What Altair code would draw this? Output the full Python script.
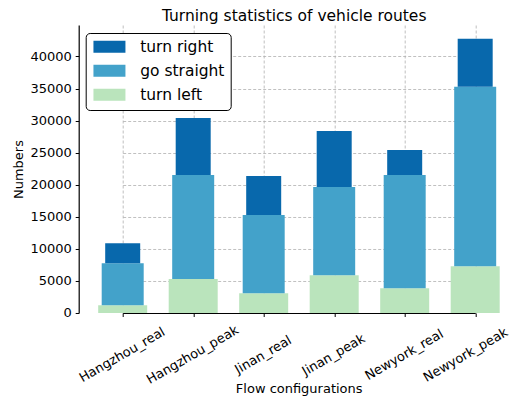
import altair as alt
import pandas as pd

categories = ["Hangzhou_real", "Hangzhou_peak", "Jinan_real", "Jinan_peak", "Newyork_real", "Newyork_peak"]
turn_left = [1200, 5310, 3080, 5890, 3860, 7300]
go_straight = [6570, 16200, 12190, 13750, 17660, 27970]
turn_right = [3120, 8910, 6090, 8750, 3900, 7500]
series_names = ["turn right", "go straight", "turn left"]
series_colors = ["#0868ac", "#43a2ca", "#bae4bc"]
y_ticks = [0, 5000, 10000, 15000, 20000, 25000, 30000, 35000, 40000]

rows = []
for i, c in enumerate(categories):
    l, s, r = turn_left[i], go_straight[i], turn_right[i]
    rows.append(dict(config=c, turn="turn left", lo=0, hi=l))
    rows.append(dict(config=c, turn="go straight", lo=l, hi=l + s))
    rows.append(dict(config=c, turn="turn right", lo=l + s, hi=l + s + r))
df = pd.DataFrame(rows)

x = alt.X(
    "config:N",
    sort=categories,
    scale=alt.Scale(type="point", range=[44, 396.5], padding=0),
    axis=alt.Axis(
        title="Flow configurations",
        grid=True,
        labelAngle=330,
        labelAlign="center",
        labelBaseline="middle",
        labelPadding=38,
        labelOffset={
            "condition": {"test": "datum.value == 'Newyork_peak'", "value": -10},
            "value": -1,
        },
        labelFontSize=13,
        titleX=220,
        titleY=80,
        titleBaseline="alphabetic",
    ),
)
y = alt.Y(
    "lo:Q",
    scale=alt.Scale(domain=[0, 44900], nice=False),
    axis=alt.Axis(
        title="Numbers",
        values=y_ticks,
        format="d",
        labelPadding=4,
        titleX=-56,
        titleY=144,
        titleBaseline="alphabetic",
    ),
)
color = alt.Color(
    "turn:N",
    scale=alt.Scale(domain=series_names, range=series_colors),
    legend=alt.Legend(
        title=None,
        orient="none",
        legendX=7,
        legendY=8,
        symbolType="M-1,-1H4.333V1H-1Z",
        symbolSize=144,
        symbolStrokeWidth=0,
        symbolOpacity=1,
        labelFontSize=15.5,
        labelFont="DejaVu Sans",
        labelColor="black",
        labelOffset=33,
        rowPadding=7,
        padding=6,
        strokeColor="black",
        fillColor="white",
        cornerRadius=4,
    ),
)

base = alt.Chart(df)
sizes = {"turn left": 49, "go straight": 42, "turn right": 35}
layers = []
for name in ["turn left", "go straight", "turn right"]:
    layers.append(
        base.transform_filter(alt.datum.turn == name)
        .mark_bar(size=sizes[name])
        .encode(x=x, y=y, y2="hi:Q", color=color)
    )

chart = (
    alt.layer(*layers)
    .properties(
        width=431,
        height=288,
        padding={"left": 70.7, "top": 17, "right": 0, "bottom": 85},
        autosize=alt.AutoSizeParams(type="none"),
        title=alt.TitleParams(
            "Turning statistics of vehicle routes",
            fontSize=15.5,
            font="DejaVu Sans",
            fontWeight="normal",
            color="black",
            offset=1,
            anchor="middle",
        ),
    )
    .configure_view(stroke="transparent")
    .configure_legend(strokeWidth=1)
    .configure_axis(
        domainColor="black",
        domainWidth=1.2,
        tickColor="black",
        tickSize=3.5,
        tickWidth=1,
        labelFont="DejaVu Sans",
        labelFontSize=13,
        labelColor="black",
        titleFont="DejaVu Sans",
        titleFontSize=13,
        titleFontWeight="normal",
        titleColor="black",
        gridColor="#b0b0b0",
        gridDash=[3, 2],
        gridWidth=0.8,
        gridOpacity=1,
    )
)

chart.save("out.html", embed_options={"renderer": "svg", "actions": False})
